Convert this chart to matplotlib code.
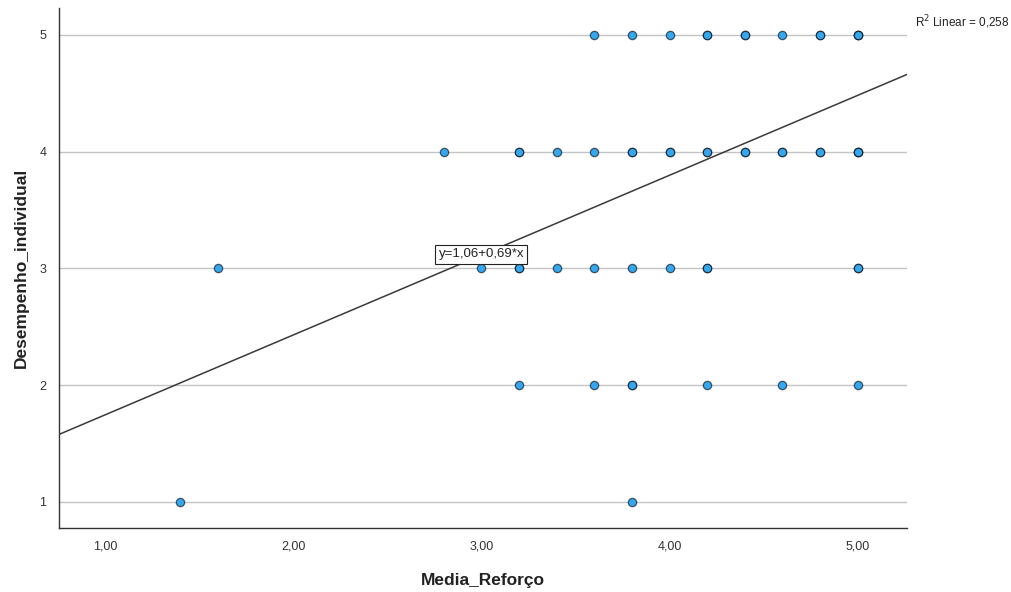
import numpy as np
import matplotlib.pyplot as plt

plt.rcParams['font.family'] = ['Liberation Sans', 'DejaVu Sans']

# Media_Reforço / Desempenho_individual (repeated values = overlapping cases)
media_reforco = [3.6, 3.8, 4.0, 4.2, 4.2, 4.4, 4.4, 4.6, 4.8, 4.8, 5.0, 5.0, 5.0,
                 2.8, 3.2, 3.2, 3.4, 3.6, 3.8, 3.8, 4.0, 4.0, 4.2, 4.2, 4.4, 4.4,
                 4.6, 4.6, 4.8, 4.8, 5.0, 5.0, 5.0,
                 1.6, 3.0, 3.2, 3.2, 3.4, 3.6, 3.8, 4.0, 4.2, 4.2, 5.0, 5.0,
                 3.2, 3.6, 3.8, 3.8, 4.2, 4.6, 5.0,
                 1.4, 3.8]
desempenho = [5] * 13 + [4] * 20 + [3] * 12 + [2] * 7 + [1] * 2

# fit line (unrounded values behind the "y=1,06+0,69*x" label)
intercept = 1.062
slope = 0.684
r2 = 0.258

xticks = [1, 2, 3, 4, 5]
xticklabels = ['1,00', '2,00', '3,00', '4,00', '5,00']
yticks = [1, 2, 3, 4, 5]

fig = plt.figure(figsize=(10.12, 5.92), dpi=100)
ax = fig.add_axes([0.0583, 0.1081, 0.838, 0.8784])

xlim = (0.755, 5.262)
ax.set_xlim(xlim)
ax.set_ylim(0.777, 5.23)

for y in yticks:
    ax.axhline(y, color='#c4c4c4', lw=1, zorder=0)

xs = np.array(xlim)
ax.plot(xs, intercept + slope * xs, color='#3a3a3a', lw=1.1, zorder=1)

ax.scatter(media_reforco, desempenho, s=36, facecolor='#35a6f0',
           edgecolor=(0, 0, 0, 0.6), linewidth=0.9, zorder=3)

ax.text(3.0, 3.12, 'y=1,06+0,69*x', ha='center', va='center', fontsize=9.5,
        color='#222222',
        bbox=dict(boxstyle='square,pad=0.25', fc='white', ec='#222222', lw=0.8),
        zorder=4)

fig.text(0.997, 0.962, r'R$^2$ Linear = 0,258', ha='right', va='center',
         fontsize=8.5, color='#222222')

for side in ['top', 'right']:
    ax.spines[side].set_visible(False)
for side in ['left', 'bottom']:
    ax.spines[side].set_color('#333333')
    ax.spines[side].set_linewidth(1)

ax.set_xticks(xticks)
ax.set_xticklabels(xticklabels)
ax.set_yticks(yticks)
ax.tick_params(length=0, labelsize=9, colors='#333333', pad=9)
ax.tick_params(axis='y', pad=9)

ax.set_xlabel('Media_Reforço', fontsize=12.5, fontweight='bold', color='#222222',
              labelpad=15)
ax.set_ylabel('Desempenho_individual', fontsize=12.5, fontweight='bold',
              color='#222222', labelpad=8)

fig.savefig('out.png', dpi=100)
